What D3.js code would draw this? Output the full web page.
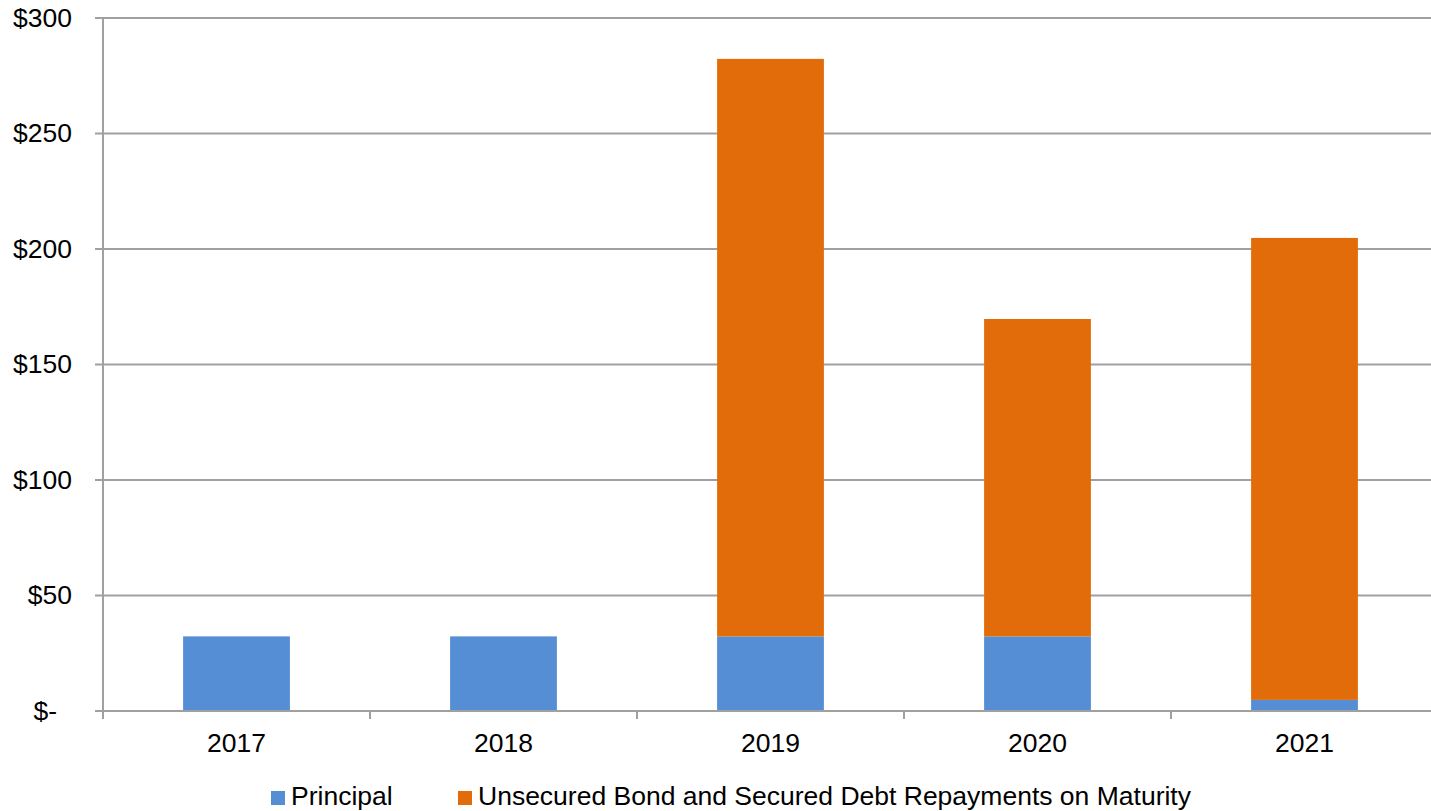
<!DOCTYPE html>
<html>
<head>
<meta charset="utf-8">
<script src="https://cdn.jsdelivr.net/npm/d3@7"></script>
<style>
  body { margin: 0; background: #fff; overflow: hidden; }
  text { font-family: "Liberation Sans", Arial, sans-serif; fill: #000; }
</style>
</head>
<body>
<div id="chart"></div>
<script>
// data ($ millions)
var years = ["2017", "2018", "2019", "2020", "2021"];
var principal = [32.3, 32.3, 32.3, 32.3, 4.8];
var unsecured = [0, 0, 250, 137.4, 200];
var seriesNames = ["Principal", "Unsecured Bond and Secured Debt Repayments on Maturity"];
var seriesColors = ["#558ED5", "#E36C0A"];
var yTicks = [0, 50, 100, 150, 200, 250, 300];

var W = 1431, H = 811;
var margin = {top: 18, right: 0, bottom: 100, left: 103};
// plot area runs a little past the right edge of the picture
var width = 1335,
    height = H - margin.top - margin.bottom;
var fontSize = "26.5px";

var rows = years.map(function (y, i) {
  return {year: y, p: principal[i], u: unsecured[i]};
});
var stacked = d3.stack().keys(["p", "u"])(rows);

var svg = d3.select("#chart").append("svg")
  .attr("width", W)
  .attr("height", H);

var main = svg.append("g")
  .attr("transform", "translate(" + margin.left + "," + margin.top + ")");

var x = d3.scaleBand()
  .domain(years)
  .range([0, width])
  .paddingInner(0.6)
  .paddingOuter(0.3);

var y = d3.scaleLinear()
  .domain([0, 300])
  .range([height, 0]);

// gridlines
main.append("g")
  .selectAll("line")
  .data(yTicks)
  .enter().append("line")
    .attr("x1", -8)
    .attr("x2", width)
    .attr("y1", function (d) { return y(d); })
    .attr("y2", function (d) { return y(d); })
    .attr("stroke", "#a0a0a0")
    .attr("stroke-width", 2);

// y axis labels
var yAxis = d3.axisLeft(y)
  .tickValues(yTicks)
  .tickSize(0)
  .tickPadding(31)
  .tickFormat(function (d) { return d === 0 ? "$-" : "$" + d; });

var yg = main.append("g").call(yAxis);
yg.select(".domain").remove();
yg.selectAll("text")
  .style("font-size", fontSize)
  .attr("dx", function (d) { return d === 0 ? -15 : 0; });

// bars
main.selectAll(".series")
  .data(stacked)
  .enter().append("g")
    .attr("fill", function (d, i) { return seriesColors[i]; })
  .selectAll("rect")
  .data(function (d) { return d; })
  .enter().append("rect")
    .attr("x", function (d) { return x(d.data.year); })
    .attr("width", x.bandwidth())
    .attr("y", function (d) { return y(d[1]); })
    .attr("height", function (d) { return y(d[0]) - y(d[1]); });

// y axis line
main.append("line")
  .attr("x1", 0).attr("x2", 0)
  .attr("y1", 0).attr("y2", height + 8)
  .attr("stroke", "#a0a0a0")
  .attr("stroke-width", 2);

// x axis line
main.append("line")
  .attr("x1", 0).attr("x2", width)
  .attr("y1", height).attr("y2", height)
  .attr("stroke", "#a0a0a0")
  .attr("stroke-width", 2);

// category boundary ticks
main.append("g")
  .selectAll("line")
  .data(years.slice(1))
  .enter().append("line")
    .attr("x1", function (d) { return x(d) - x.step() * x.paddingInner() / 2; })
    .attr("x2", function (d) { return x(d) - x.step() * x.paddingInner() / 2; })
    .attr("y1", height)
    .attr("y2", height + 8)
    .attr("stroke", "#a0a0a0")
    .attr("stroke-width", 2);

// x axis labels
var xg = main.append("g")
  .attr("transform", "translate(0," + height + ")")
  .call(d3.axisBottom(x).tickSize(0).tickPadding(22));
xg.select(".domain").remove();
xg.selectAll("text").style("font-size", fontSize);

// legend
var legendX = [271, 458];
var legend = svg.append("g");
seriesNames.forEach(function (name, i) {
  legend.append("rect")
    .attr("x", legendX[i])
    .attr("y", 791)
    .attr("width", 14)
    .attr("height", 14)
    .attr("fill", seriesColors[i]);
  legend.append("text")
    .attr("x", legendX[i] + 20)
    .attr("y", 805)
    .style("font-size", fontSize)
    .text(name);
});
</script>
</body>
</html>
